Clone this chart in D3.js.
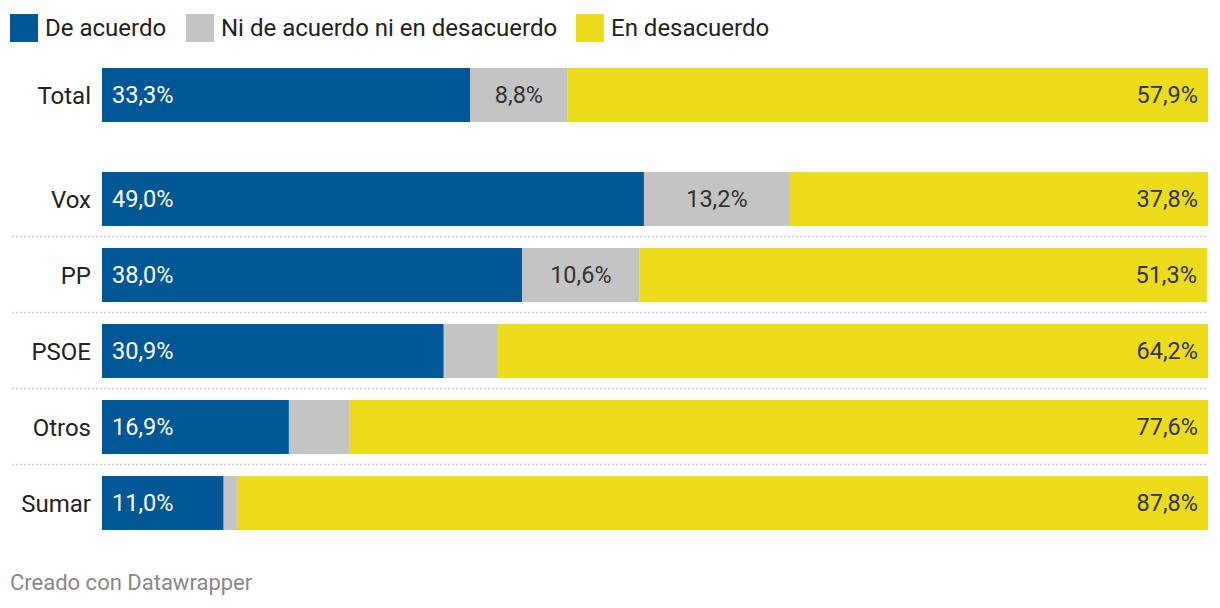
<!DOCTYPE html>
<html><head><meta charset="utf-8">
<script src="https://cdn.jsdelivr.net/npm/d3@7"></script>
<style>
body{margin:0;background:#fff;font-family:Roboto,"Noto Sans",sans-serif;}
</style></head>
<body><svg id="c" width="1220" height="608"></svg>
<script>
const categories = ["Total","Vox","PP","PSOE","Otros","Sumar"];
const seriesNames = ["De acuerdo","Ni de acuerdo ni en desacuerdo","En desacuerdo"];
const deAcuerdo = [33.3,49.0,38.0,30.9,16.9,11.0];
const niNi = [8.8,13.2,10.6,4.9,5.5,1.2];
const enDesacuerdo = [57.9,37.8,51.3,64.2,77.6,87.8];
const showLabel = [[true,true,true,true,true,true],[true,true,true,false,false,false],[true,true,true,true,true,true]];
const colors = ["#005796","#c4c4c4","#ecdc1b"];
const textColors = ["#ffffff","#333333","#333333"];
const footer = "Creado con Datawrapper";

const svg = d3.select("#c");
const fmt = v => v.toFixed(1).replace(".", ",") + "%";
const x = d3.scaleLinear().domain([0,100]).range([102,1208]);
const parties = categories.slice(1);
const yP = d3.scaleBand().domain(parties).range([161,541]).paddingInner(22/76).paddingOuter(11/76);
const yT = d3.scaleBand().domain(["Total"]).range([57,133]).paddingInner(22/76).paddingOuter(11/76);
const y = c => c === "Total" ? yT(c) : yP(c);
const bw = yP.bandwidth();

const series = [deAcuerdo, niNi, enDesacuerdo];
const rows = categories.map((c,i)=>{
  let acc = 0;
  return series.map((s,k)=>{ const r = {c, k, v:s[i], x0:acc, x1:acc+s[i], lab:showLabel[k][i]}; acc += s[i]; return r; });
});

// separators
svg.append("g").selectAll("line").data(parties.slice(1)).join("line")
  .attr("x1",12).attr("x2",1208)
  .attr("y1",d=>yP(d)-11.5).attr("y2",d=>yP(d)-11.5)
  .attr("stroke","#cccccc").attr("stroke-width",1.3).attr("stroke-dasharray","2,2");

const g = svg.append("g");
rows.forEach(r=>{
  g.selectAll(null).data(r).join("rect")
    .attr("x",d=>x(d.x0)).attr("width",d=>x(d.x1)-x(d.x0))
    .attr("y",d=>y(d.c)).attr("height",bw)
    .attr("fill",d=>colors[d.k]);
  g.selectAll(null).data(r.filter(d=>d.lab)).join("text")
    .attr("x",d=> d.k===0 ? x(d.x0)+10 : d.k===1 ? (x(d.x0)+x(d.x1))/2 : x(d.x1)-10)
    .attr("text-anchor",d=> d.k===0 ? "start" : d.k===1 ? "middle" : "end")
    .attr("y",d=>y(d.c)+bw/2+8)
    .attr("font-size",23.5).attr("fill",d=>textColors[d.k])
    .text(d=>fmt(d.v));
});

// category labels
svg.append("g").selectAll("text").data(categories).join("text")
  .attr("x",91).attr("y",d=>y(d)+bw/2+9)
  .attr("text-anchor","end").attr("font-size",24).attr("fill","#222")
  .text(d=>d);

// legend
const legX = [10,186,576];
const lg = svg.append("g");
seriesNames.forEach((n,i)=>{
  lg.append("rect").attr("x",legX[i]).attr("y",14).attr("width",28).attr("height",28).attr("fill",colors[i]);
  lg.append("text").attr("x",legX[i]+35).attr("y",36).attr("font-size",24).attr("fill","#222").text(n);
});

svg.append("text").attr("x",10).attr("y",590).attr("font-size",22).attr("fill","#888").text(footer);
</script></body></html>
